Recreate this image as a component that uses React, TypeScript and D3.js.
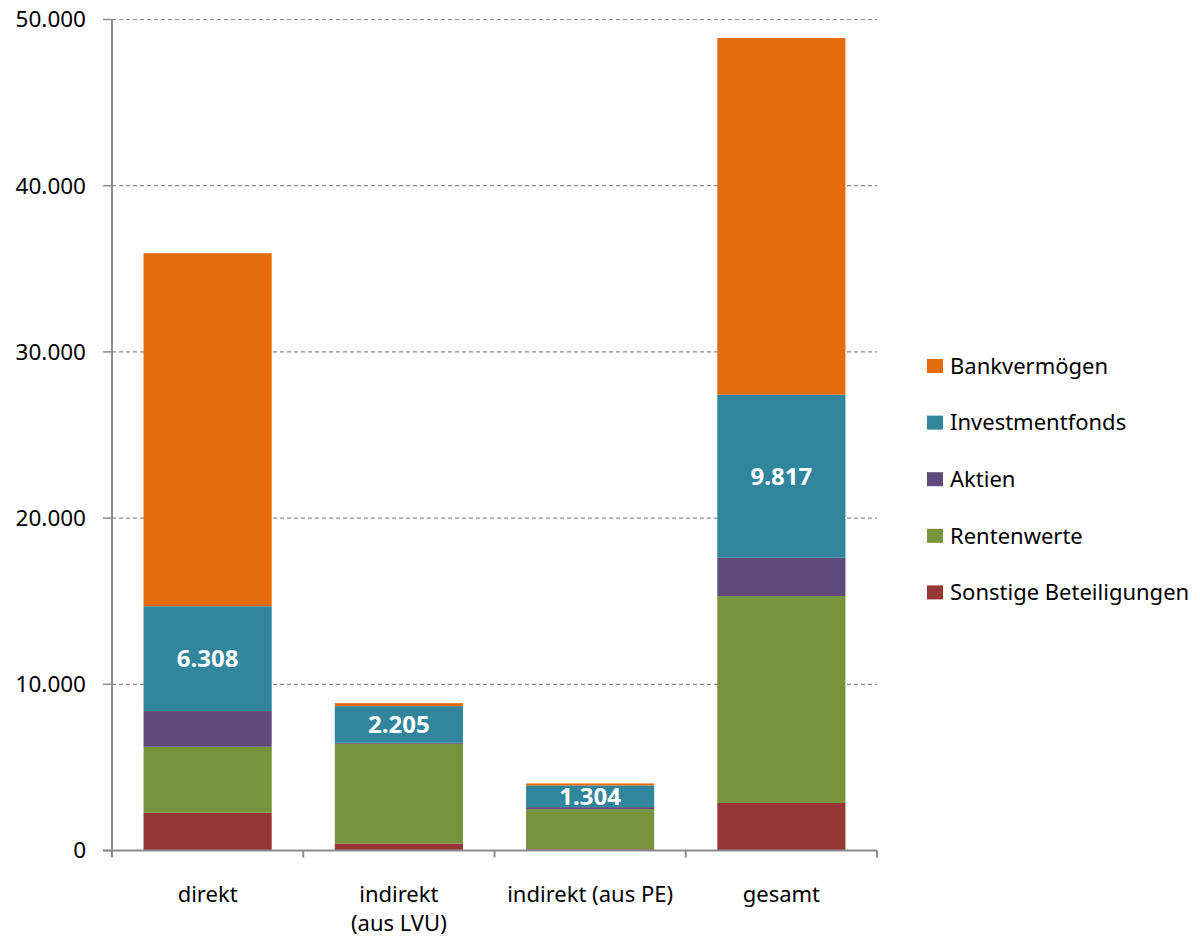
import React from "react";
import * as d3 from "d3";

const categories = ["direkt", "indirekt\n(aus LVU)", "indirekt (aus PE)", "gesamt"];
const seriesNames = ["Sonstige Beteiligungen", "Rentenwerte", "Aktien", "Investmentfonds", "Bankvermögen"];
const sonstige = [2270, 420, 80, 2860];
const rentenwerte = [3970, 6000, 2410, 12450];
const aktien = [2150, 60, 120, 2300];
const investmentfonds = [6308, 2205, 1304, 9817];
const bankvermoegen = [21240, 180, 120, 21460];
const colors = ["#953735", "#77933C", "#604A7B", "#31859C", "#E46C0A"];
const yTicks = [0, 10000, 20000, 30000, 40000, 50000];
const labelSeries = 3;

const W = 1200;
const H = 938;
const FONT = "'Noto Sans', sans-serif";

export default function App() {
  const left = 112, right = 877, top = 19.5, bottom = 850.5;
  const x = d3.scaleBand().domain(categories).range([left, right]).paddingInner(0.33).paddingOuter(0.165);
  const y = d3.scaleLinear().domain([0, 50000]).range([bottom, top]);
  const fmt = (v: number) => d3.format(",")(v).replace(/,/g, ".");

  const seriesValues = [sonstige, rentenwerte, aktien, investmentfonds, bankvermoegen];
  const rows = categories.map((c, i) => {
    const r: any = { cat: c };
    seriesNames.forEach((s, j) => (r[s] = seriesValues[j][i]));
    return r;
  });
  const stacked = d3.stack().keys(seriesNames)(rows);

  const band = (right - left) / categories.length;
  const legendOrder = [4, 3, 2, 1, 0];

  return (
    <svg width={W} height={H} style={{ position: "absolute", left: 0, top: 0 }}>
      {yTicks.map((t) => (
        <g key={t}>
          {t > 0 && (
            <line x1={left} x2={right} y1={y(t)} y2={y(t)} stroke="#8c8c8c" strokeWidth={1.2} strokeDasharray="4,3" />
          )}
          <line x1={left - 9} x2={left} y1={y(t)} y2={y(t)} stroke="#8c8c8c" strokeWidth={1.5} />
          <text x={86} y={y(t)} dy="0.35em" textAnchor="end" fontFamily={FONT} fontSize={22.5} fill="#000">
            {fmt(t)}
          </text>
        </g>
      ))}
      {stacked.map((s, j) => (
        <g key={s.key}>
          {s.map((d, i) => (
            <rect
              key={i}
              x={x(categories[i])}
              width={x.bandwidth()}
              y={y(d[1])}
              height={y(d[0]) - y(d[1])}
              fill={colors[j]}
            />
          ))}
        </g>
      ))}
      {stacked[labelSeries].map((d, i) => (
        <text
          key={i}
          x={(x(categories[i]) as number) + x.bandwidth() / 2}
          y={(y(d[0]) + y(d[1])) / 2}
          dy="0.36em"
          textAnchor="middle"
          fontFamily={FONT}
          fontWeight="bold"
          fontSize={24}
          fill="#fff"
        >
          {fmt(investmentfonds[i])}
        </text>
      ))}
      <line x1={left} x2={left} y1={top} y2={bottom} stroke="#8c8c8c" strokeWidth={2} />
      <line x1={left - 9} x2={right} y1={bottom} y2={bottom} stroke="#8c8c8c" strokeWidth={2} />
      {d3.range(categories.length + 1).map((k) => (
        <line key={k} x1={left + k * band} x2={left + k * band} y1={bottom} y2={bottom + 7} stroke="#8c8c8c" strokeWidth={2} />
      ))}
      {categories.map((c) => (
        <text
          key={c}
          x={(x(c) as number) + x.bandwidth() / 2}
          y={902}
          textAnchor="middle"
          fontFamily={FONT}
          fontSize={22}
          fill="#000"
        >
          {c.split("\n").map((line, k) => (
            <tspan key={k} x={(x(c) as number) + x.bandwidth() / 2} dy={k === 0 ? 0 : 29}>
              {line}
            </tspan>
          ))}
        </text>
      ))}
      {legendOrder.map((j, k) => (
        <g key={j} transform={`translate(927, ${366 + k * 56.6})`}>
          <rect x={0} y={-7} width={16} height={14} fill={colors[j]} />
          <text x={23} y={0} dy="0.35em" fontFamily={FONT} fontSize={22} fill="#000">
            {seriesNames[j]}
          </text>
        </g>
      ))}
    </svg>
  );
}
